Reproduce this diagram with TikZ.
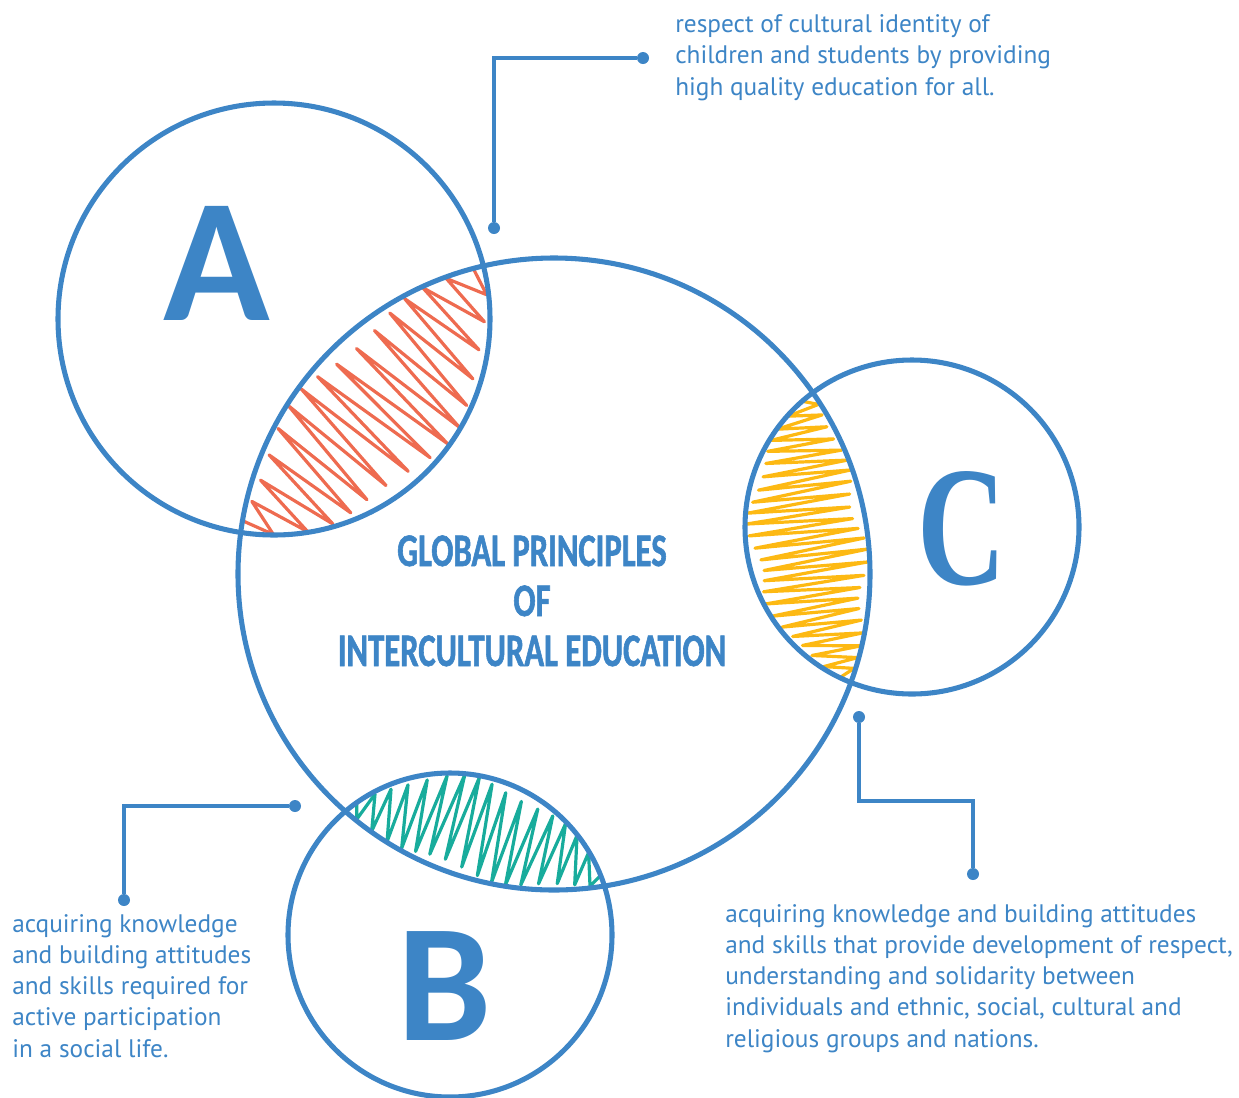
\documentclass[tikz,border=0pt]{standalone}
\usepackage{fontspec}
\setmainfont{PT Sans}
\newfontfamily\letterfont{Carlito}
\newfontfamily\titlefont[FakeStretch=0.70,FakeBold=1.2]{Carlito}
\newfontfamily\cfont[FakeStretch=0.72]{Liberation Serif}
\usetikzlibrary{calc}
\definecolor{vblue}{HTML}{3D85C6}
\definecolor{vred}{HTML}{EE6B50}
\definecolor{vyellow}{HTML}{FDB913}
\definecolor{vgreen}{HTML}{18AC9C}
\tikzset{
  vring/.style={draw=vblue, line width=3.8pt},
  vlead/.style={draw=vblue, line width=2.4pt},
  vdot/.style={circle, fill=vblue, inner sep=0pt, minimum size=9pt},
  vnote/.style={vblue, font=\fontsize{19}{23.3}\selectfont, align=left, inner sep=0pt},
  vletter/.style={vblue, inner sep=0pt, anchor=base},
  vtitle/.style={vblue, font=\titlefont\bfseries\fontsize{35}{37.5}\selectfont, align=center, inner sep=0pt},
  vscrib/.style={line width=2.4pt, line join=round, line cap=round},
}

% zigzag fill of the overlap of two circles (pixel units, centre x, y, radius)
\newcommand{\scribble}[8]{%
  \pgfmathsetmacro\sxa{#2/100}\pgfmathsetmacro\sya{#3/100}\pgfmathsetmacro\sra{#4/100}
  \pgfmathsetmacro\sxb{#5/100}\pgfmathsetmacro\syb{#6/100}\pgfmathsetmacro\srb{#7/100}
  \pgfmathsetmacro\sd{veclen((\sxb)-(\sxa),(\syb)-(\sya))}
  \pgfmathsetmacro\sux{((\sxb)-(\sxa))/(\sd)}
  \pgfmathsetmacro\suy{((\syb)-(\sya))/(\sd)}
  \pgfmathsetmacro\sa{((\sd)*(\sd)+(\sra)*(\sra)-(\srb)*(\srb))/(2*(\sd))}
  \pgfmathsetmacro\sh{sqrt((\sra)*(\sra)-(\sa)*(\sa))}
  \foreach \k in {0,...,#8} {
    \pgfmathsetmacro\lx{(\sh)*(-0.95+1.9*\k/#8+0.45/#8*sin(\k*211))}
    \pgfmathsetmacro\lo{(\sd)-(\sa)-sqrt((\srb)*(\srb)-(\lx)*(\lx))}
    \pgfmathsetmacro\hi{sqrt((\sra)*(\sra)-(\lx)*(\lx))-(\sa)}
    \pgfmathsetmacro\f{0.06+0.05*sin(\k*157)}
    \pgfmathsetmacro\ls{mod(\k,2)==0 ? (\lo)+(\f)*((\hi)-(\lo)) : (\hi)-(\f)*((\hi)-(\lo))}
    \coordinate (s\k) at ({100*((\sxa)+((\sa)+(\ls))*(\sux)-(\lx)*(\suy))},
                          {100*((\sya)+((\sa)+(\ls))*(\suy)+(\lx)*(\sux))});
  }
  \begin{scope}
    \clip (#2,#3) circle[radius=#4];
    \clip (#5,#6) circle[radius=#7];
    \draw[vscrib, #1] (s0) \foreach \k in {1,...,#8} { -- (s\k) };
  \end{scope}
}

\begin{document}
\begin{tikzpicture}[x=0.75pt,y=-0.75pt]
  \useasboundingbox (0,0) rectangle (1239,1097);

  % overlaps
  \scribble{vred}{274}{319}{216}{554}{574}{316}{30}
  \scribble{vyellow}{554}{574}{316}{912}{527}{167}{48}
  \scribble{vgreen}{554}{574}{316}{450}{935}{162}{32}

  % circles
  \draw[vring] (554,574) circle[radius=316];
  \draw[vring] (274,319) circle[radius=216];
  \draw[vring] (912,527) circle[radius=167];
  \draw[vring] (450,935) circle[radius=162];

  \node[vletter, font=\letterfont\bfseries\fontsize{132}{132}\selectfont] (la) at (217,320) {A};
  \node[vletter, font=\letterfont\bfseries\fontsize{126}{126}\selectfont] (lb) at (445,1040) {B};
  \node[vletter, font=\cfont\bfseries\fontsize{128}{128}\selectfont] (lc) at (962,584) {C};

  \node[vtitle, anchor=base] (title) at (532,666)
    {GLOBAL PRINCIPLES\\OF\\INTERCULTURAL EDUCATION};

  % leaders
  \node[vdot] (da1) at (494,228) {};
  \node[vdot] (da2) at (643,58) {};
  \draw[vlead] (da1) |- (da2);

  \node[vdot] (db1) at (295,806) {};
  \node[vdot] (db2) at (124,900) {};
  \draw[vlead] (db1) -| (db2);

  \node[vdot] (dc1) at (859,717) {};
  \node[vdot] (dc2) at (973,874) {};
  \coordinate (cc) at (859,801);
  \draw[vlead] (dc1) -- (cc) -| (dc2);

  % notes (anchored on the last line)
  \node[vnote, anchor=base west] (na) at (675,95)
    {respect of cultural identity of\\
     children and students by providing\\
     high quality education for all.};
  \node[vnote, anchor=base west] (nb) at (12,1057)
    {acquiring knowledge\\
     and building attitudes\\
     and skills required for\\
     active participation\\
     in a social life.};
  \node[vnote, anchor=base west] (nc) at (725,1047)
    {acquiring knowledge and building attitudes\\
     and skills that provide development of respect,\\
     understanding and solidarity between\\
     individuals and ethnic, social, cultural and\\
     religious groups and nations.};
\end{tikzpicture}
\end{document}
